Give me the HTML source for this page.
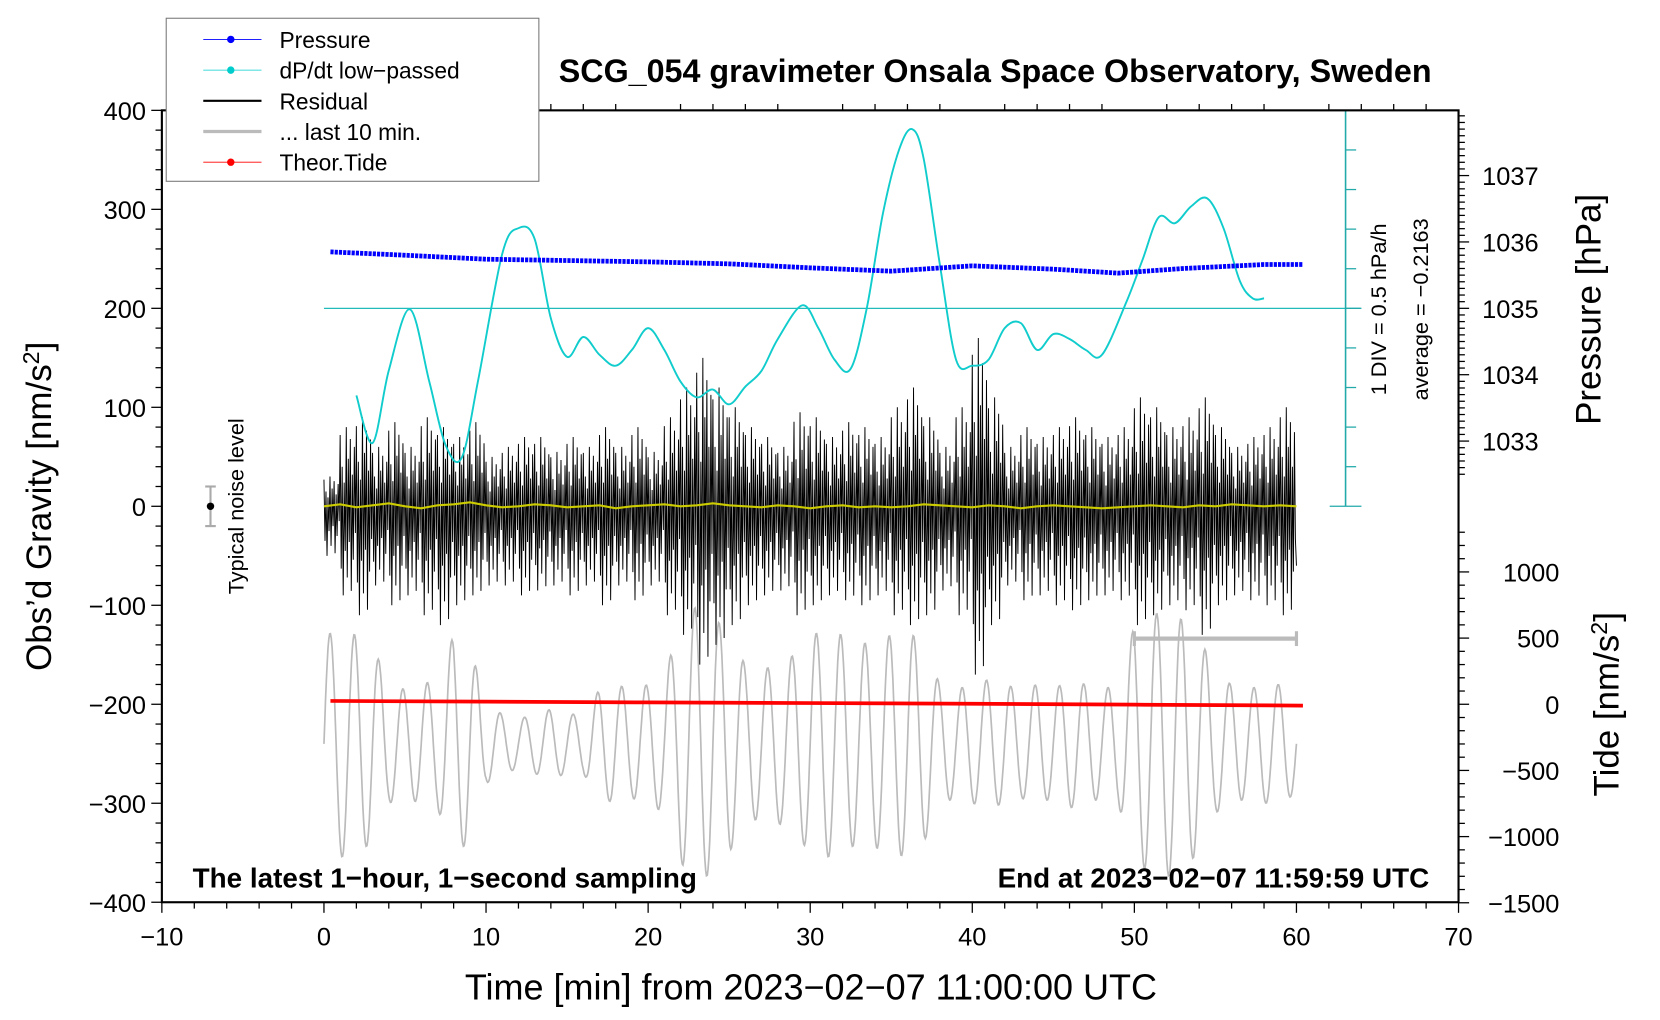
<!DOCTYPE html>
<html><head><meta charset="utf-8"><style>
html,body{margin:0;padding:0;background:#fff}
svg{display:block}
text{font-family:"Liberation Sans",sans-serif;fill:#000}
</style></head><body>
<svg id="chart" width="1660" height="1020" viewBox="0 0 1568 963" xmlns="http://www.w3.org/2000/svg">
<rect x="0" y="0" width="1568" height="963" fill="#fff"/>
<g id="plot"></g>
<g id="axes"></g>
<text x="940" y="77" font-size="30.5" font-weight="bold" text-anchor="middle">SCG_054 gravimeter Onsala Space Observatory, Sweden</text>
<text x="766" y="944" font-size="34" text-anchor="middle">Time [min] from 2023−02−07 11:00:00 UTC</text>
<text transform="translate(48,478) rotate(-90)" font-size="33" text-anchor="middle">Obs’d Gravity [nm/s<tspan dy="-11" font-size="22">2</tspan><tspan dy="11">]</tspan></text>
<text transform="translate(1512,292) rotate(-90)" font-size="33" text-anchor="middle">Pressure [hPa]</text>
<text transform="translate(1529,665) rotate(-90)" font-size="33" text-anchor="middle">Tide [nm/s<tspan dy="-11" font-size="22">2</tspan><tspan dy="11">]</tspan></text>
<text x="182" y="838" font-size="26.3" font-weight="bold">The latest 1−hour, 1−second sampling</text>
<text x="1350" y="838" font-size="26.3" font-weight="bold" text-anchor="end">End at 2023−02−07 11:59:59 UTC</text>
<text transform="translate(230,478) rotate(-90)" font-size="20.5" text-anchor="middle">Typical noise level</text>
<text transform="translate(1309,292) rotate(-90)" font-size="20.5" text-anchor="middle">1 DIV = 0.5 hPa/h</text>
<text transform="translate(1349,292) rotate(-90)" font-size="20.5" text-anchor="middle">average = −0.2163</text>
<g id="legend">
<rect x="157" y="17" width="352" height="154" fill="#fff" stroke="#777" stroke-width="1"/>
<g><line x1="192" y1="37" x2="247" y2="37" stroke="#00f" stroke-width="0.8"/><circle cx="218" cy="37" r="3.5" fill="#00f"/><text x="264" y="45" font-size="21.5">Pressure</text></g>
<g><line x1="192" y1="66" x2="247" y2="66" stroke="#0cc" stroke-width="0.8"/><circle cx="218" cy="66" r="3.5" fill="#0cc"/><text x="264" y="74" font-size="21.5">dP/dt low−passed</text></g>
<g><line x1="192" y1="95" x2="247" y2="95" stroke="#000" stroke-width="2"/><text x="264" y="103" font-size="21.5">Residual</text></g>
<g><line x1="192" y1="124" x2="247" y2="124" stroke="#bbb" stroke-width="3"/><text x="264" y="132" font-size="21.5">... last 10 min.</text></g>
<g><line x1="192" y1="153" x2="247" y2="153" stroke="#f00" stroke-width="0.8"/><circle cx="218" cy="153" r="3.5" fill="#f00"/><text x="264" y="161" font-size="21.5">Theor.Tide</text></g>
</g>
</svg>
<script>
// ---- data ----
const xTicks = [-10,0,10,20,30,40,50,60,70];
const yTicks = [400,300,200,100,0,-100,-200,-300,-400];
const pTicks = [1037,1036,1035,1034,1033];
const tTicks = [1000,500,0,-500,-1000,-1500];
const minutes = [0,1,2,3,4,5,6,7,8,9,10,11,12,13,14,15,16,17,18,19,20,21,22,23,24,25,26,27,28,29,30,31,32,33,34,35,36,37,38,39,40,41,42,43,44,45,46,47,48,49,50,51,52,53,54,55,56,57,58,59,60];
const resMax = [30,80,90,60,85,60,90,80,70,85,50,60,70,70,55,70,60,80,60,80,55,90,120,150,120,100,80,70,60,95,90,70,85,80,70,100,120,90,60,100,170,110,60,80,70,80,90,80,70,80,110,100,80,90,110,80,60,70,80,100,40];
const resMin = [-50,-90,-110,-80,-100,-90,-110,-120,-100,-90,-80,-80,-90,-85,-80,-90,-80,-100,-80,-95,-80,-110,-130,-160,-140,-120,-100,-90,-85,-110,-100,-90,-95,-100,-90,-110,-120,-110,-85,-110,-170,-120,-80,-95,-90,-100,-105,-95,-90,-95,-120,-110,-100,-105,-130,-100,-90,-95,-100,-110,-60];
const yellow = [0,2,-1,1,3,0,-2,1,2,4,1,-1,0,2,1,-1,0,1,-2,0,1,2,0,1,3,1,0,-1,1,0,-2,0,1,-1,0,-1,0,2,1,0,-1,1,0,-2,0,1,0,-1,-2,-1,0,1,0,-1,1,0,2,1,0,1,0];
const grayAmp = [110,115,110,100,60,55,60,65,110,100,40,30,25,30,35,30,30,55,60,55,60,70,120,140,130,110,80,75,80,90,110,115,110,100,105,110,115,100,60,55,60,65,60,55,60,55,65,60,55,60,120,130,135,125,110,70,60,55,60,60,50];
const grayCenter = -240;
const dpX = [2,3,4,5.3,6.5,7.5,8.5,9.5,11,12,13,14,15,16,17,18,19,20,21,22,23,24,25,26,27,28,29.5,30.5,31.5,32.5,33.5,34.5,35.5,36.3,37,38,39,40,41,42,43,44,45,46,47,48,49.5,50.5,51.5,52.5,53.5,54.5,55.5,56.5,57.3,58];
const dpY = [112,64,137,199,126,62,49,126,255,281,270,190,151,171,153,142,158,180,158,126,110,118,103,121,137,169,203,180,148,139,201,297,361,381,351,244,148,142,148,180,185,158,174,169,158,153,206,249,292,286,303,311,281,228,210,210];
const pX = [0.4,5,10,15,20,25,30,35,40,45,49,53,58,60.4];
const pVal = [1035.85,1035.80,1035.74,1035.72,1035.70,1035.67,1035.61,1035.56,1035.64,1035.59,1035.53,1035.60,1035.66,1035.66];
const tideX = [0.4,10,20,30,40,50,60.4];
const tideVal = [25,20,14,9,4,-3,-10];

// ---- axis functions ----
const X = m => 306 + (m)*15.31;
const Y = g => 478 - g*0.935;
const P = p => 291 - (p-1035)*62.7;
const T = t => 665 - t*0.125;
const NS="http://www.w3.org/2000/svg";
function el(tag, attrs, parent){const e=document.createElementNS(NS,tag);for(const k in attrs)e.setAttribute(k,attrs[k]);parent.appendChild(e);return e;}
function smooth(pts){let d='M'+pts[0][0]+','+pts[0][1];for(let i=0;i<pts.length-1;i++){const p0=pts[Math.max(0,i-1)],p1=pts[i],p2=pts[i+1],p3=pts[Math.min(pts.length-1,i+2)];
 d+='C'+(p1[0]+(p2[0]-p0[0])/6).toFixed(1)+','+(p1[1]+(p2[1]-p0[1])/6).toFixed(1)+' '+(p2[0]-(p3[0]-p1[0])/6).toFixed(1)+','+(p2[1]-(p3[1]-p1[1])/6).toFixed(1)+' '+p2[0].toFixed(1)+','+p2[1].toFixed(1);}return d;}
const plot=document.getElementById('plot'), axes=document.getElementById('axes');

// gray last 10 min
let gd='';
for(let t=0;t<=60;t+=0.05){const i=Math.min(60,Math.floor(t));const f=t-i;const a=grayAmp[i]*(1-f)+grayAmp[Math.min(60,i+1)]*f;
 const v=grayCenter+a*Math.sin(2*Math.PI*t/1.5);gd+=(t===0?'M':'L')+X(t).toFixed(1)+','+Y(v).toFixed(1);}
const gp=el('path',{d:gd,fill:'none',stroke:'#bbb','stroke-width':1.6},plot);



// residual
const pat=[0.9,-0.7,0.5,-1,0.3,-0.5,1,-0.8,0.6,-0.4,0.85,-0.95,0.4,-0.6,0.75,-0.3];
let rd='';
for(let i=0;i<minutes.length-1;i++){for(let k=0;k<pat.length;k++){const t=minutes[i]+k/pat.length;const f=pat[k];
 const v=f>0?resMax[i]*f:resMin[i]*(-f);rd+=(rd?'L':'M')+X(t).toFixed(1)+','+Y(v).toFixed(1);}}
rd+='L'+X(60)+','+Y(resMin[60]);
const rp=el('path',{d:rd,fill:'none',stroke:'#000','stroke-width':0.9},plot);


const yp=el('polyline',{points:minutes.map((m,i)=>X(m)+','+Y(yellow[i])).join(' '),fill:'none',stroke:'#cc0','stroke-width':2},plot);



// cyan
const ref=el('line',{x1:X(0),y1:Y(200),x2:1285,y2:Y(200),stroke:'#2bb','stroke-width':1.2},plot);


const cp=el('path',{d:smooth(dpX.map((m,i)=>[X(m),Y(dpY[i])])),fill:'none',stroke:'#1cc','stroke-width':1.8,'stroke-linejoin':'round'},plot);


el('line',{x1:1271,y1:104,x2:1271,y2:478,stroke:'#2aa','stroke-width':1.5},plot);
for(let k=0;k<=10;k++){const y=104+k*37.4;el('line',{x1:k%10===0?1256:1271,y1:y,x2:k%5===0?1286:1281,y2:y,stroke:'#2aa','stroke-width':1.2},plot);}

// pressure
const pp=el('polyline',{points:pX.map((m,i)=>X(m)+','+P(pVal[i])).join(' '),fill:'none',stroke:'#00f','stroke-width':4.5,'stroke-dasharray':'3 1'},plot);



// tide
const tp=el('polyline',{points:tideX.map((m,i)=>X(m)+','+T(tideVal[i])).join(' '),fill:'none',stroke:'#f00','stroke-width':3.5},plot);



// last 10 min bracket
const br=el('g',{},plot);


el('line',{x1:X(50),y1:603,x2:X(60),y2:603,stroke:'#bbb','stroke-width':4},br);
el('line',{x1:X(50),y1:596,x2:X(50),y2:610,stroke:'#bbb','stroke-width':3},br);
el('line',{x1:X(60),y1:596,x2:X(60),y2:610,stroke:'#bbb','stroke-width':3},br);

// noise level
const nl=el('g',{},plot);


el('line',{x1:X(-7),y1:Y(20),x2:X(-7),y2:Y(-20),stroke:'#aaa','stroke-width':2},nl);
el('line',{x1:X(-7)-5,y1:Y(20),x2:X(-7)+5,y2:Y(20),stroke:'#aaa','stroke-width':2},nl);
el('line',{x1:X(-7)-5,y1:Y(-20),x2:X(-7)+5,y2:Y(-20),stroke:'#aaa','stroke-width':2},nl);
el('circle',{cx:X(-7),cy:Y(0),r:3.5,fill:'#000'},nl);

// frame
const fr=el('rect',{x:X(-10),y:Y(400),width:X(70)-X(-10),height:Y(-400)-Y(400),fill:'none',stroke:'#000','stroke-width':2},axes);


for(let m=-10;m<=70;m+=2){const big=m%10===0;
 el('line',{x1:X(m),y1:Y(-400),x2:X(m),y2:Y(-400)+(big?10:6),stroke:'#000','stroke-width':1.2},axes);
 el('line',{x1:X(m),y1:Y(400),x2:X(m),y2:Y(400)-(big?0:6),stroke:'#000','stroke-width':1.2},axes);}
xTicks.forEach(v=>{const t=el('text',{x:X(v),y:893,'font-size':24,'text-anchor':'middle'},axes);t.textContent=v<0?'−'+(-v):v;
 
 });
for(let g=-400;g<=400;g+=20){const big=g%100===0;el('line',{x1:X(-10)-(big?10:6),y1:Y(g),x2:X(-10),y2:Y(g),stroke:'#000','stroke-width':1.2},axes);}
yTicks.forEach(v=>{const t=el('text',{x:X(-10)-15,y:Y(v)+9,'font-size':24,'text-anchor':'end'},axes);t.textContent=v<0?'−'+(-v):v;
 
 });
for(let p=1032.5;p<=1037.9;p+=0.1){const big=Math.abs(p-Math.round(p))<0.01;el('line',{x1:X(70),y1:P(p),x2:X(70)+(big?10:6),y2:P(p),stroke:'#000','stroke-width':1.2},axes);}
pTicks.forEach(v=>{const t=el('text',{x:1400,y:P(v)+9,'font-size':24},axes);t.textContent=v;
 
 });
for(let v=-1500;v<=1300;v+=100){const big=v%500===0;el('line',{x1:X(70),y1:T(v),x2:X(70)+(big?10:6),y2:T(v),stroke:'#000','stroke-width':1.2},axes);}
tTicks.forEach(v=>{const t=el('text',{x:1473,y:T(v)+9,'font-size':24,'text-anchor':'end'},axes);t.textContent=v<0?'−'+(-v):v;
 
 });
</script>
</body></html>
